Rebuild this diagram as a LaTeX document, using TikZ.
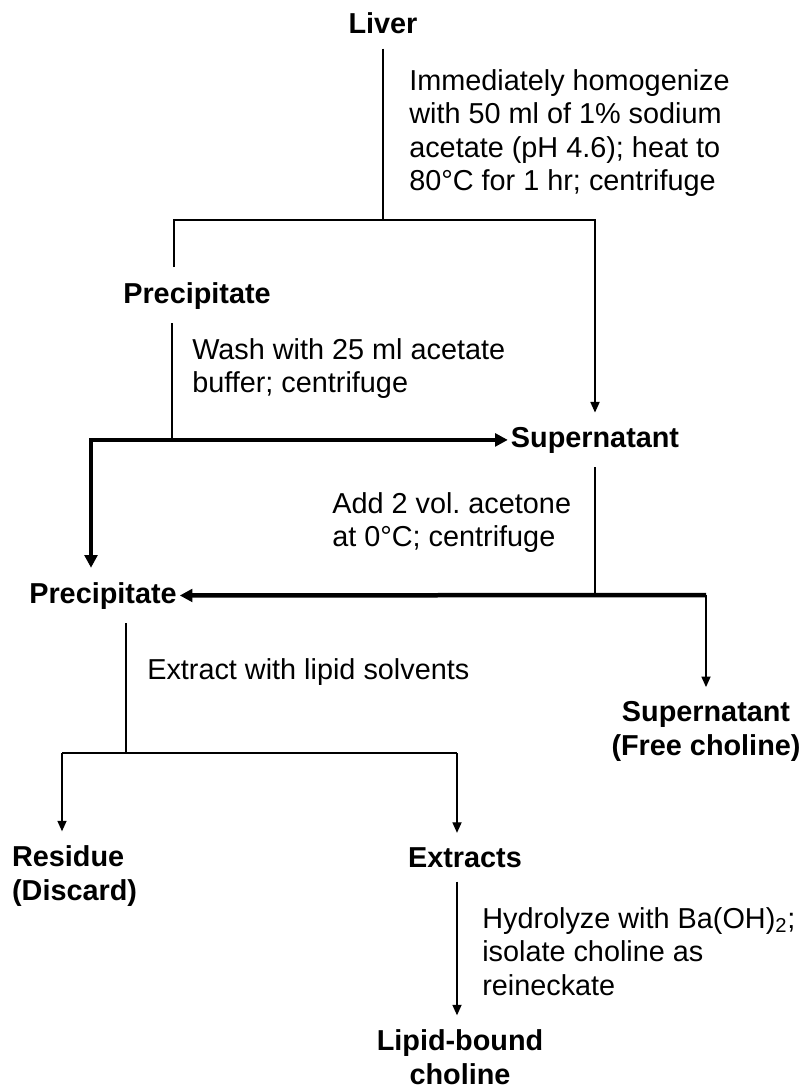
\documentclass[tikz,border=0pt]{standalone}
\usepackage{fontspec}
\setmainfont{Liberation Sans}
\usetikzlibrary{arrows.meta,positioning}

\begin{document}
\begin{tikzpicture}[x=0.025cm, y=-0.025cm, >={Triangle[width=6.5pt,length=7.5pt]},
  tyk/.tip={Triangle[width=9pt,length=9pt]},
  font=\fontsize{20.5}{23.8}\selectfont,
  nodestyle/.style={font=\fontsize{20.5}{23.8}\selectfont\bfseries, align=center, inner xsep=2pt, inner ysep=10pt},
  stepstyle/.style={align=left, inner sep=0pt, anchor=north west},
  line/.style={line width=0.9pt},
  pil/.style={->, line width=0.9pt},
  tykpil/.style={-tyk, line width=3.2pt}]
	 \useasboundingbox (0,0) rectangle (805,1090);
	 \node[nodestyle, anchor=base] (liver) at (383,34) {Liver};
	 \node[stepstyle] (homog) at (409,69) {Immediately homogenize\\with 50 ml of 1\% sodium\\acetate (pH 4.6); heat to\\80°C for 1 hr; centrifuge};
	 \node[nodestyle, anchor=base] (prec1) at (197,303) {Precipitate};
	 \node[stepstyle] (wash) at (192,338) {Wash with 25 ml acetate\\buffer; centrifuge};
	 \node[nodestyle, anchor=base] (sup1) at (595,447) {Supernatant};
	 \node[stepstyle] (acetone) at (332,492) {Add 2 vol.\ acetone\\at 0°C; centrifuge};
	 \node[nodestyle, anchor=base] (prec2) at (103,603) {Precipitate};
	 \node[stepstyle] (extract) at (147,658) {Extract with lipid solvents};
	 \node[nodestyle, anchor=base] (sup2) at (706,755) {Supernatant\\(Free choline)};
	 \node[nodestyle, anchor=base west, align=left] (residue) at (9,900) {Residue\\(Discard)};
	 \node[nodestyle, anchor=base] (extracts) at (465,867) {Extracts};
	 \node[stepstyle] (hydro) at (482,907) {Hydrolyze with Ba(OH)\textsubscript{2};\\isolate choline as\\reineckate};
	 \node[nodestyle, anchor=base] (lipid) at (460,1084) {Lipid-bound\\choline};
	 \coordinate (split1) at (383,220);
	 \coordinate (stub1) at (174,267);
	 \coordinate (foot1) at (172,441);
	 \coordinate (bend1) at (91,441);
	 \coordinate (bend2) at (595,595);
	 \coordinate (bend3) at (706,595);
	 \coordinate (split3) at (126,753);
	 \coordinate (fork1) at (62,753);
	 \coordinate (fork2) at (457,753);
	 \draw[line] (liver) -- (split1);
	 \draw[pil] (stub1) |- (split1) -| (sup1);
	 \draw[line] (prec1.south -| foot1) -- (foot1);
	 \draw[tykpil, tyk-tyk] (sup1) -| (prec2.north -| bend1);
	 \draw[line] (sup1) -- (bend2);
	 \draw[tykpil] (bend3) -- (prec2);
	 \draw[pil] (bend3) -- (sup2);
	 \draw[line] (prec2.south -| split3) -- (split3);
	 \draw[line] (fork1) -- (fork2);
	 \draw[pil] (fork1) -- (fork1 |- residue.north);
	 \draw[pil] (fork2) -- (fork2 |- extracts.north);
	 \draw[pil] (extracts.south -| fork2) -- (lipid.north -| fork2);
\end{tikzpicture}
\end{document}
